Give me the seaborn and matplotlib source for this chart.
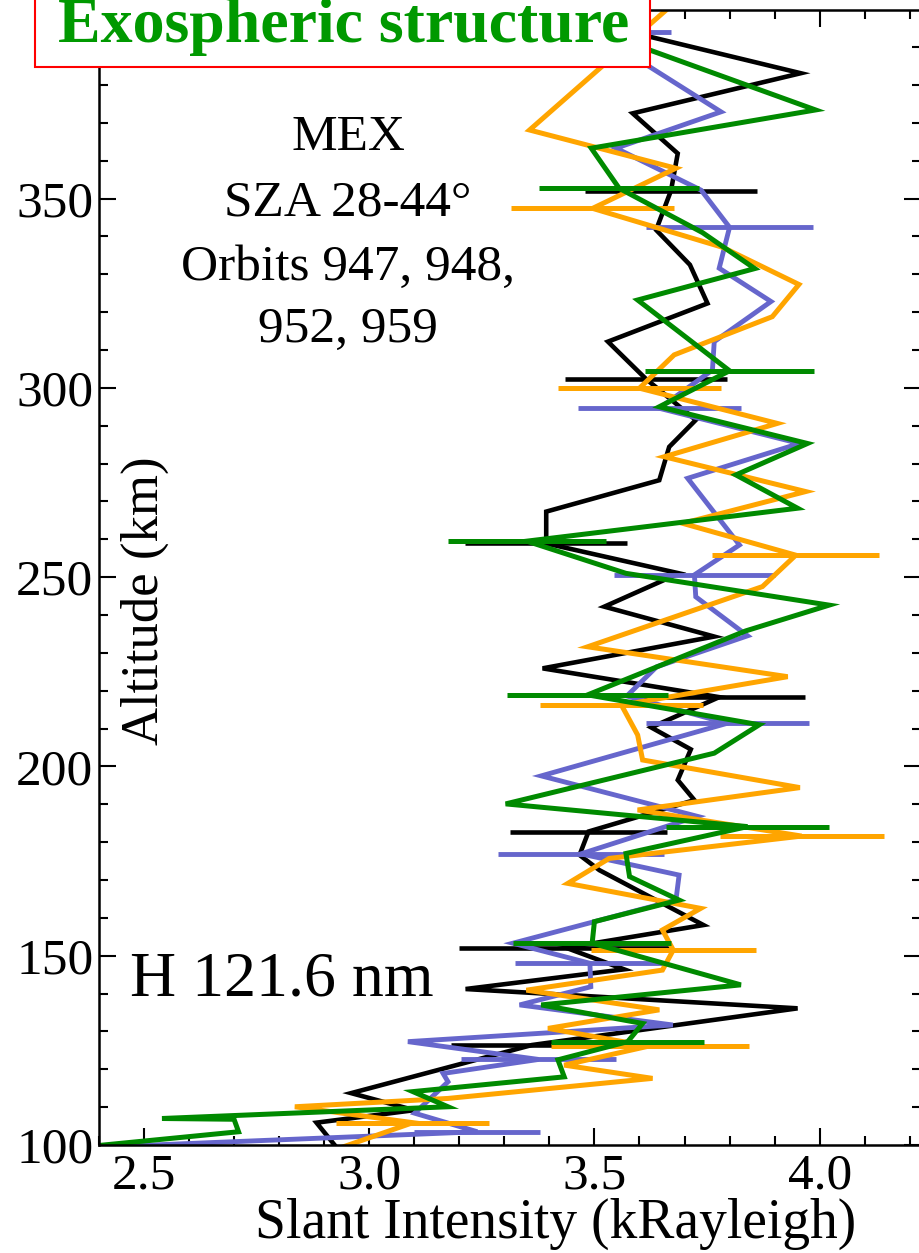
import matplotlib
matplotlib.use('Agg')
import matplotlib.pyplot as plt
import seaborn as sns
from matplotlib.ticker import MultipleLocator
from matplotlib.patches import Rectangle

# ---------------- data ----------------
# black series: profile vertices (altitude km, slant intensity kR)
alt_black = [393.4, 383.1, 372.5, 361.9, 352.1, 341.7, 332.5, 322.3, 312.2, 302.4, 291.5, 284.4,
             275.6, 267.3, 258.9, 251.0, 242.2, 234.3, 225.9, 218.3, 210.3, 204.5, 196.4, 191.1,
             182.8, 176.6, 172.6, 158.1, 152.1, 146.4, 141.2, 136.1, 126.4, 113.7, 109.2, 105.9, 99.0]
int_black = [3.60, 3.958, 3.585, 3.685, 3.670, 3.637, 3.712, 3.751, 3.530, 3.614, 3.725, 3.666,
             3.644, 3.393, 3.393, 3.688, 3.522, 3.766, 3.385, 3.777, 3.626, 3.714, 3.685, 3.722,
             3.487, 3.467, 3.511, 3.742, 3.437, 3.566, 3.214, 3.951, 3.361, 2.96, 3.10, 2.883, 2.93]
eb_alt_black = [352.1, 302.4, 258.9, 218.3, 182.8, 152.1, 126.4]
eb_int_black = [3.670, 3.614, 3.393, 3.777, 3.487, 3.437, 3.361]
eb_err_black = [0.19, 0.18, 0.18, 0.19, 0.175, 0.237, 0.18]

# slate-blue series
alt_blue = [394.0, 372.9, 363.3, 352.2, 342.4, 331.6, 322.8, 312.2, 304.7, 294.6, 285.3, 276.1,
            258.5, 250.6, 244.8, 234.5, 226.3, 218.6, 211.4, 197.5, 186.8, 176.9, 171.3, 164.7,
            153.3, 148.0, 141.8, 137.0, 131.7, 127.3, 122.6, 118.9, 116.7, 108.4, 103.5, 98.5]
int_blue = [3.50, 3.781, 3.548, 3.737, 3.80, 3.777, 3.892, 3.766, 3.762, 3.644, 3.955, 3.707,
            3.822, 3.722, 3.725, 3.840, 3.638, 3.572, 3.795, 3.382, 3.729, 3.47, 3.688, 3.681,
            3.319, 3.49, 3.492, 3.334, 3.674, 3.086, 3.376, 3.164, 3.175, 3.101, 3.24, 2.21]
eb_alt_blue = [394.0, 342.4, 294.6, 250.6, 211.4, 176.9, 148.0, 122.6, 103.5]
eb_int_blue = [3.50, 3.80, 3.644, 3.722, 3.795, 3.47, 3.49, 3.376, 3.24]
eb_err_blue = [0.17, 0.185, 0.181, 0.178, 0.181, 0.185, 0.166, 0.172, 0.14]

# orange series
alt_orange = [403.0, 368.1, 358.0, 347.4, 337.1, 327.3, 318.8, 308.7, 299.9, 290.6, 281.8, 272.6,
              264.2, 255.8, 247.5, 231.6, 223.7, 216.2, 208.3, 201.7, 194.4, 188.5, 181.6, 175.7,
              169.1, 162.5, 156.8, 151.5, 146.2, 140.9, 135.7, 130.8, 126.1, 121.1, 117.6, 112.3,
              110.1, 105.9, 99.0]
int_orange = [3.69, 3.356, 3.681, 3.496, 3.785, 3.954, 3.895, 3.677, 3.60, 3.906, 3.655, 3.969,
              3.696, 3.947, 3.873, 3.485, 3.929, 3.56, 3.596, 3.607, 3.956, 3.596, 3.96, 3.533,
              3.441, 3.736, 3.651, 3.675, 3.651, 3.349, 3.644, 3.397, 3.62, 3.433, 3.629, 3.175,
              2.835, 3.097, 2.93]
eb_alt_orange = [347.4, 299.9, 255.8, 216.2, 181.6, 151.5, 126.1, 105.9]
eb_int_orange = [3.496, 3.60, 3.947, 3.56, 3.96, 3.675, 3.624, 3.097]
eb_err_orange = [0.181, 0.181, 0.185, 0.181, 0.182, 0.183, 0.22, 0.17]

# green series
alt_green = [394.5, 373.4, 363.3, 352.7, 341.0, 331.5, 323.2, 304.5, 295.0, 285.3, 277.0, 268.2,
             259.5, 251.0, 242.6, 235.8, 218.9, 211.0, 203.5, 190.1, 184.1, 177.0, 170.9, 164.7,
             159.0, 153.3, 142.3, 137.0, 132.1, 127.3, 122.5, 118.0, 114.1, 110.1, 107.0, 106.8,
             103.5, 98.0]
int_green = [3.50, 3.991, 3.493, 3.555, 3.74, 3.856, 3.596, 3.80, 3.644, 3.973, 3.814, 3.951,
             3.350, 3.570, 4.021, 3.836, 3.485, 3.866, 3.766, 3.303, 3.84, 3.570, 3.578, 3.688,
             3.50, 3.495, 3.825, 3.382, 3.607, 3.574, 3.419, 3.433, 3.097, 3.175, 2.54, 2.70,
             2.71, 2.24]
eb_alt_green = [352.7, 304.5, 259.5, 218.9, 184.1, 153.3, 127.3]
eb_int_green = [3.555, 3.80, 3.350, 3.485, 3.84, 3.495, 3.574]
eb_err_green = [0.178, 0.187, 0.176, 0.178, 0.181, 0.176, 0.17]

x_ticks = [2.5, 3.0, 3.5, 4.0]
x_tick_labels = ['2.5', '3.0', '3.5', '4.0']
y_ticks = [100, 150, 200, 250, 300, 350]
y_tick_labels = ['100', '150', '200', '250', '300', '350']

title = 'Exospheric structure'
info_lines = ['MEX', 'SZA 28-44°', 'Orbits 947, 948,', '952, 959']
line_label = 'H 121.6 nm'
x_label = 'Slant Intensity (kRayleigh)'
y_label = 'Altitude (km)'

# ---------------- figure ----------------
plt.rcParams['font.family'] = ['Liberation Serif', 'DejaVu Serif']
W, H = 919, 1253
fig = plt.figure(figsize=(W / 100, H / 100), dpi=100)
ax_l, ax_r, ax_t, ax_b = 98.9, 921.0, 10.0, 1145.0
ax = fig.add_axes([ax_l / W, 1 - ax_b / H, (ax_r - ax_l) / W, (ax_b - ax_t) / H])

series = [
    (alt_black, int_black, eb_alt_black, eb_int_black, eb_err_black, '#000000', 3.3),
    (alt_blue, int_blue, eb_alt_blue, eb_int_blue, eb_err_blue, '#6666cc', 3.5),
    (alt_orange, int_orange, eb_alt_orange, eb_int_orange, eb_err_orange, '#ffa500', 3.6),
    (alt_green, int_green, eb_alt_green, eb_int_green, eb_err_green, '#008a00', 3.6),
]
for alt, inten, ea, ei, ee, col, lw in series:
    sns.lineplot(x=inten, y=alt, sort=False, estimator=None, color=col, linewidth=lw,
                 solid_joinstyle='miter', ax=ax)
    ax.errorbar(ei, ea, xerr=ee, fmt='none', ecolor=col, elinewidth=lw, capsize=0)

ax.set_xlim(2.4, 4.225)
ax.set_ylim(100, 399.8)
ax.set_xticks(x_ticks)
ax.set_xticklabels(x_tick_labels)
ax.set_yticks(y_ticks)
ax.set_yticklabels(y_tick_labels)
ax.xaxis.set_minor_locator(MultipleLocator(0.1))
ax.yaxis.set_minor_locator(MultipleLocator(10))
ax.tick_params(which='both', direction='in', top=True, right=True, width=1.5, colors='black')
ax.tick_params(which='major', length=12, labelsize=37)
ax.tick_params(axis='y', which='major', pad=4)
ax.tick_params(axis='x', which='major', pad=6)
ax.tick_params(which='minor', length=6.5)
for s in ax.spines.values():
    s.set_linewidth(1.8)
ax.set_xlabel('')
ax.set_ylabel('')

# labels
fig.text(556 / W, 1 - 1238 / H, x_label, ha='center', va='baseline', fontsize=40)
fig.text(145 / W, 1 - 601 / H, y_label, rotation=90, ha='center', va='center', fontsize=38)

# annotations
for txt, yb in zip(info_lines, [150, 216, 280, 342]):
    fig.text(348 / W, 1 - yb / H, txt, ha='center', va='baseline', fontsize=37)
fig.text(130 / W, 1 - 995 / H, line_label, ha='left', va='baseline', fontsize=46)

# title box
rect = Rectangle((35 / W, 1 - 67 / H), 615 / W, 90 / H, transform=fig.transFigure,
                 facecolor='white', edgecolor='#ff0000', linewidth=1.5, zorder=5)
fig.add_artist(rect)
fig.text(58 / W, 1 - 42 / H, title, ha='left', va='baseline', fontsize=46,
         fontweight='bold', color='#009900', zorder=6)

fig.savefig('out.png', dpi=100)
